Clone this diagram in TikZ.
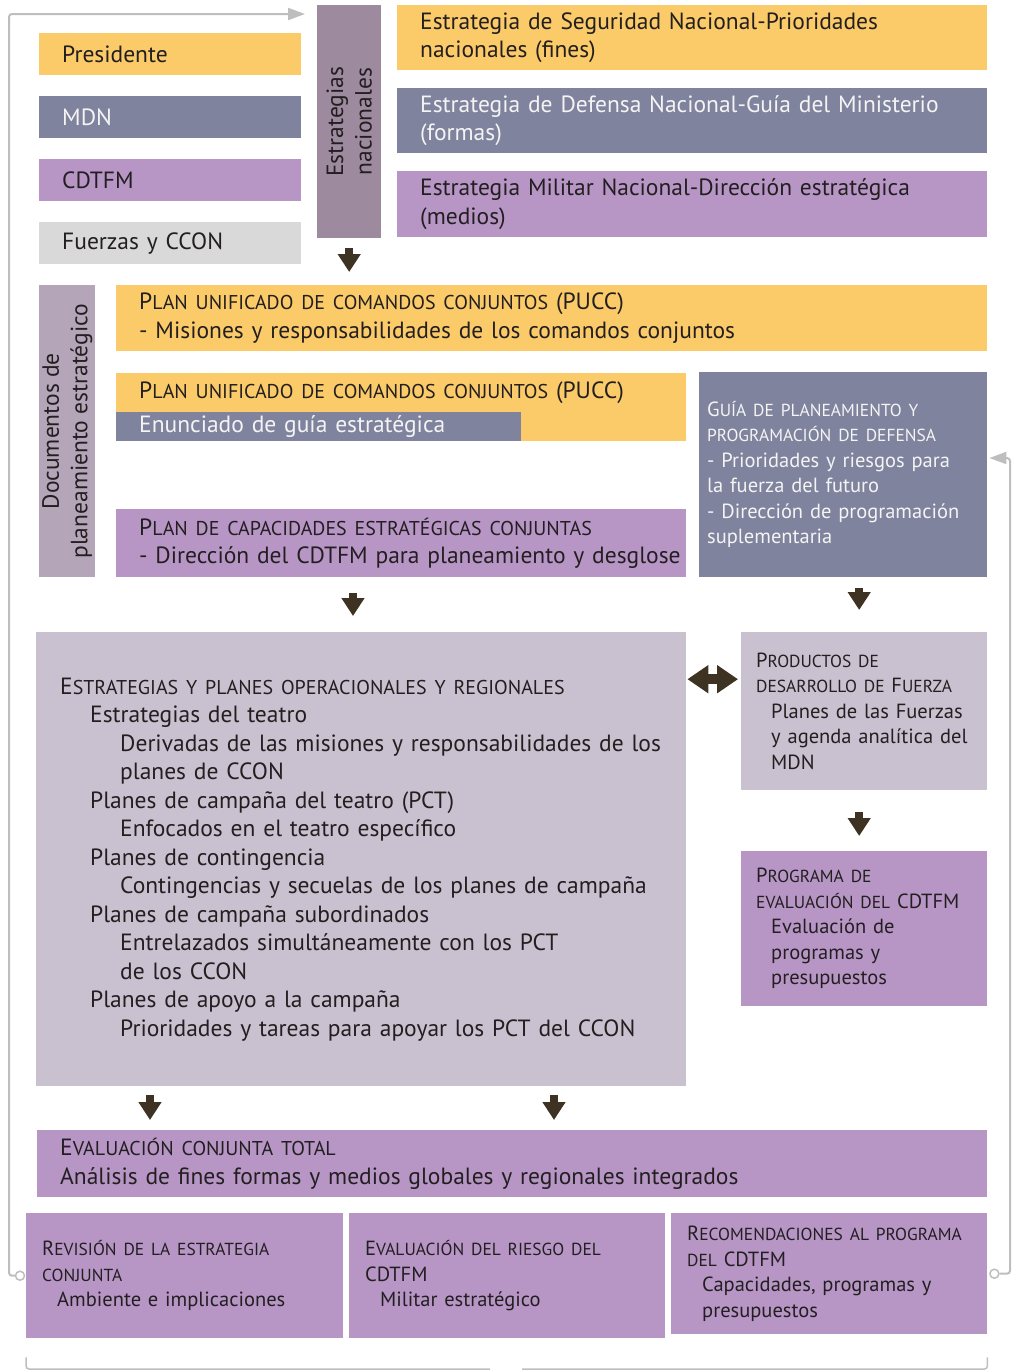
\documentclass[tikz,border=0pt]{standalone}
\usepackage{fontspec}
\setmainfont{PT Sans}
\usetikzlibrary{arrows.meta}

\definecolor{cyel}{HTML}{FBCB69}
\definecolor{cslate}{HTML}{7F839D}
\definecolor{cpurp}{HTML}{B796C6}
\definecolor{cgray}{HTML}{D9D9D9}
\definecolor{cmauve}{HTML}{9E8A9F}
\definecolor{cdoc}{HTML}{B4A5B9}
\definecolor{clav}{HTML}{C9C1CF}
\definecolor{arrowc}{HTML}{3E3322}
\definecolor{linec}{HTML}{BEBEBE}
\definecolor{ink}{HTML}{231F20}
\definecolor{light}{HTML}{F4F4F4}

\newcommand\fbig{\fontsize{23.5}{28.5}\selectfont}
\newcommand\fmid{\fontsize{20.5}{25.5}\selectfont}
\makeatletter
\newcommand\smc[1]{{\fontsize{\fpeval{0.85*\f@size}}{\f@baselineskip}\selectfont #1}}
\makeatother
\newcommand\indS{\hspace*{15pt}}
\newcommand\indA{\hspace*{30pt}}
\newcommand\indB{\hspace*{60pt}}

\begin{document}
\begin{tikzpicture}[x=1pt,y=-1pt,
    panel/.style={rectangle, anchor=north west, inner ysep=0pt, align=left, text=ink, font=\fbig},
    fatarrow/.style={draw=arrowc, line width=8pt, -{Triangle[width=22pt,length=18pt]}},
    fatboth/.style={draw=arrowc, line width=10pt, {Triangle[width=27pt,length=21pt]}-{Triangle[width=27pt,length=21pt]}},
    fbline/.style={draw=linec, line width=2pt, rounded corners=3pt},
    ring/.style={circle, draw=linec, line width=1.5pt, fill=white, minimum size=9pt, inner sep=0pt}]

  \useasboundingbox (0,0) rectangle (1013,1371);

  \begin{scope}[every node/.append style={panel}]
    \node[fill=cyel, text width=216pt, inner xsep=23pt, minimum height=42pt] (pres) at (39,33) {Presidente};
    \node[fill=cslate, text=light, text width=216pt, inner xsep=23pt, minimum height=42pt] (mdn) at (39,96) {MDN};
    \node[fill=cpurp, text width=216pt, inner xsep=23pt, minimum height=42pt] (cdtfm) at (39,159) {CDTFM};
    \node[fill=cgray, text width=216pt, inner xsep=23pt, minimum height=42pt] (fuerzas) at (39,222) {Fuerzas y CCON};

    \node[fill=cmauve, minimum width=64pt, minimum height=233pt, inner sep=0pt] (estnac) at (317,5) {};

    \node[fill=cyel, text width=544pt, inner xsep=23pt, minimum height=65pt] (seg) at (397,5)
      {Estrategia de Seguridad Nacional-Prioridades\\nacionales (fines)};
    \node[fill=cslate, text=light, text width=544pt, inner xsep=23pt, minimum height=65pt] (def) at (397,88)
      {Estrategia de Defensa Nacional-Guía del Ministerio\\(formas)};
    \node[fill=cpurp, text width=544pt, inner xsep=23pt, minimum height=66pt] (mil) at (397,171)
      {Estrategia Militar Nacional-Dirección estratégica\\(medios)};

    \node[fill=cdoc, minimum width=56pt, minimum height=292pt, inner sep=0pt] (docs) at (39,285) {};

    \node[fill=cyel, text width=825pt, inner xsep=23pt, minimum height=66pt] (pucc1) at (116,285)
      {P\smc{LAN UNIFICADO DE COMANDOS CONJUNTOS} (PUCC)\\- Misiones y responsabilidades de los comandos conjuntos};
    \node[fill=cyel, minimum width=570pt, minimum height=68pt, inner sep=0pt] (pucc2) at (116,373) {};
    \node[text width=524pt, inner xsep=23pt, minimum height=39pt] (pucc2txt) at (pucc2.north west)
      {P\smc{LAN UNIFICADO DE COMANDOS CONJUNTOS} (PUCC)};
    \node[anchor=south west, fill=cslate, text=light, text width=359pt, inner xsep=23pt, minimum height=29pt] (enun) at (pucc2.south west)
      {Enunciado de guía estratégica};
    \node[fill=cpurp, text width=524pt, inner xsep=23pt, minimum height=68pt] (cap) at (116,509)
      {P\smc{LAN DE CAPACIDADES ESTRATÉGICAS CONJUNTAS}\\\mbox{- Dirección del CDTFM para planeamiento y desglose}};
    \node[fill=cslate, text=light, font=\fmid, text width=272pt, inner xsep=8pt, minimum height=205pt] (guia) at (699,372)
      {G\smc{UÍA DE PLANEAMIENTO Y}\\\smc{PROGRAMACIÓN DE DEFENSA}\\- Prioridades y riesgos para\\la fuerza del futuro\\- Dirección de programación\\suplementaria};

    \node[fill=clav, text width=602pt, inner xsep=24pt, minimum height=454pt] (big) at (36,632)
      {E\smc{STRATEGIAS Y PLANES OPERACIONALES Y REGIONALES}\\
       \indA Estrategias del teatro\\
       \indB \mbox{Derivadas de las misiones y responsabilidades de los}\\
       \indB planes de CCON\\
       \indA Planes de campaña del teatro (PCT)\\
       \indB Enfocados en el teatro específico\\
       \indA Planes de contingencia\\
       \indB \mbox{Contingencias y secuelas de los planes de campaña}\\
       \indA Planes de campaña subordinados\\
       \indB Entrelazados simultáneamente con los PCT\\
       \indB de los CCON\\
       \indA Planes de apoyo a la campaña\\
       \indB \mbox{Prioridades y tareas para apoyar los PCT del CCON}};
    \node[fill=clav, font=\fmid, text width=216pt, inner xsep=15pt, minimum height=158pt] (prod) at (741,632)
      {P\smc{RODUCTOS DE}\\\smc{DESARROLLO DE} F\smc{UERZA}\\\indS Planes de las Fuerzas\\\indS \mbox{y agenda analítica del}\\\indS MDN};
    \node[fill=cpurp, font=\fmid, text width=216pt, inner xsep=15pt, minimum height=155pt] (prog) at (741,851)
      {P\smc{ROGRAMA DE}\\\smc{EVALUACIÓN DEL} CDTFM\\\indS Evaluación de\\\indS programas y\\\indS presupuestos};

    \node[fill=cpurp, text width=904pt, inner xsep=23pt, minimum height=67pt] (evalc) at (37,1130)
      {E\smc{VALUACIÓN CONJUNTA TOTAL}\\Análisis de fines formas y medios globales y regionales integrados};

    \node[fill=cpurp, font=\fmid, text width=285pt, inner xsep=16pt, minimum height=125pt] (rev) at (26,1213)
      {R\smc{EVISIÓN DE LA ESTRATEGIA}\\\smc{CONJUNTA}\\\indS Ambiente e implicaciones};
    \node[fill=cpurp, font=\fmid, text width=284pt, inner xsep=16pt, minimum height=125pt] (risk) at (349,1213)
      {E\smc{VALUACIÓN DEL RIESGO DEL}\\CDTFM\\\indS Militar estratégico};
    \node[fill=cpurp, font=\fmid, text width=284pt, inner xsep=16pt, minimum height=121pt] (recom) at (671,1213)
      {R\smc{ECOMENDACIONES AL PROGRAMA}\\\smc{DEL} CDTFM\\\indS Capacidades, programas y\\\indS presupuestos};
  \end{scope}

  \node[rotate=90, align=center, text=ink, font=\fbig] (estnactxt) at (estnac.center) {Estrategias\\nacionales};
  \node[rotate=90, align=center, text=ink, font=\fbig] (docstxt) at (docs.center) {Documentos de\\planeamiento estratégico};

  % flechas
  \coordinate (pd) at ([xshift=-5pt]prod.north);
  \coordinate (pw) at ([yshift=32pt]prod.west);
  \coordinate (ca) at ([xshift=237pt]cap.south west);
  \draw[fatarrow, shorten <=10pt, shorten >=13pt] (estnac.south) -- (estnac.south |- pucc1.north);
  \draw[fatarrow, shorten <=16pt, shorten >=16pt] (ca) -- (ca |- big.north);
  \draw[fatarrow, shorten <=11pt, shorten >=22pt] (pd |- guia.south) -- (pd);
  \draw[fatarrow, shorten <=22pt, shorten >=15pt] (pd |- prod.south) -- (pd |- prog.north);
  \foreach \dx in {114,518} {
    \coordinate (bx) at ([xshift=\dx pt]big.south west);
    \draw[fatarrow, shorten <=9pt, shorten >=10pt] (bx) -- (bx |- evalc.north);
  }
  \draw[fatboth, shorten <=3pt, shorten >=1pt] (pw) -- (pw -| big.east);

  % retorno
  \node[ring] (lring) at ([xshift=-6pt]rev.west) {};
  \node[ring] (rring) at ([xshift=7pt]recom.east) {};
  \coordinate (ltop) at (9,14);
  \coordinate (rtop) at (1010,458);
  \draw[fbline, -{Triangle[width=12pt,length=17pt]}, shorten >=12pt] (lring.west) -| (ltop) -- (ltop -| estnac.west);
  \draw[fbline, -{Triangle[width=12pt,length=17pt]}, shorten >=2pt] (rring.east) -| (rtop) -- (rtop -| guia.east);
  \draw[fbline, line width=1.5pt] ([yshift=-19pt]rev.south west) |- (490,1369);
  \draw[fbline, line width=1.5pt] (522,1369) -| ([yshift=-23pt]recom.south east);

\end{tikzpicture}
\end{document}
